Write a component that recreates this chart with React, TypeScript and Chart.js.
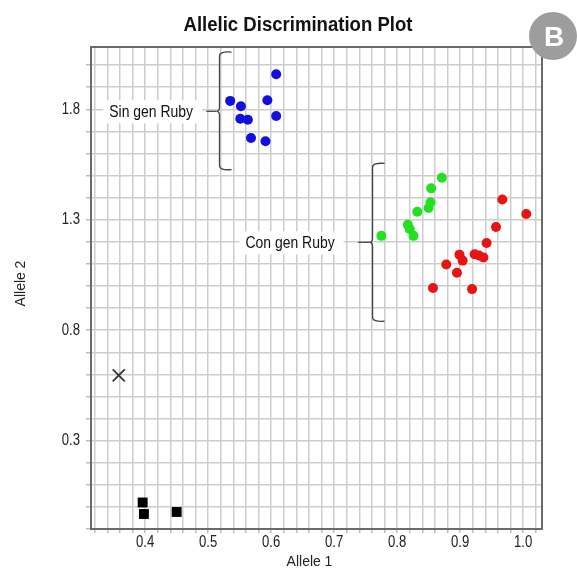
import React, { useEffect, useRef } from "react";
import { Chart, registerables } from "chart.js";

Chart.register(...registerables);

const FONT = "'Liberation Sans', Arial, Helvetica, sans-serif";
const NARROW = 0.82;

const TITLE = "Allelic Discrimination Plot";
const X_TITLE = "Allele 1";
const Y_TITLE = "Allele 2";
const BADGE = "B";

const X_TICK_LABELS = ["0.4", "0.5", "0.6", "0.7", "0.8", "0.9", "1.0"];
const Y_TICK_LABELS = ["0.3", "0.8", "1.3", "1.8"];

// Sin gen Ruby (blue)
const BLUE_X = [0.608, 0.535, 0.552, 0.594, 0.551, 0.563, 0.608, 0.568, 0.591];
const BLUE_Y = [1.959, 1.838, 1.814, 1.841, 1.757, 1.753, 1.770, 1.670, 1.655];

// Con gen Ruby (green)
const GREEN_X = [0.775, 0.817, 0.820, 0.826, 0.832, 0.850, 0.853, 0.854, 0.871];
const GREEN_Y = [1.227, 1.277, 1.258, 1.227, 1.336, 1.353, 1.379, 1.442, 1.490];

// red cluster
const RED_X = [0.967, 1.005, 0.957, 0.942, 0.899, 0.904, 0.923, 0.930, 0.937, 0.878, 0.895, 0.857, 0.919];
const RED_Y = [1.392, 1.326, 1.267, 1.195, 1.142, 1.115, 1.144, 1.138, 1.129, 1.097, 1.060, 0.991, 0.986];

// no template controls (black squares)
const NTC_X = [0.396, 0.398, 0.450];
const NTC_Y = [0.020, -0.032, -0.023];

// undetermined (x)
const UND_X = [0.358];
const UND_Y = [0.595];

// bracket annotations (data coordinates)
const BRACKET_LABELS = ["Sin gen Ruby", "Con gen Ruby"];
const BRACKET_X = [0.518, 0.761];
const BRACKET_TOP = [2.059, 1.555];
const BRACKET_BOTTOM = [1.527, 0.841];
const BRACKET_MID = [1.791, 1.198];
const LEADER_X = [0.497, 0.738];
const LABEL_X = [0.4095, 0.630];

const toPts = (xs: number[], ys: number[]) => xs.map((x, i) => ({ x, y: ys[i] }));

const isLabel = (v: number, list: string[]) => {
  const r = Math.round(v * 10);
  if (Math.abs(v * 10 - r) > 1e-6) return "";
  const s = (r / 10).toFixed(1);
  return list.includes(s) ? s : "";
};

function narrowText(ctx: any, text: string, x: number, y: number, font: string, align: string, sx = NARROW, rot = 0) {
  ctx.save();
  ctx.translate(x, y);
  if (rot) ctx.rotate(rot);
  ctx.scale(sx, 1);
  ctx.font = font;
  ctx.textAlign = align;
  ctx.textBaseline = "middle";
  ctx.fillText(text, 0, 0);
  ctx.restore();
}

const decorPlugin = {
  id: "decor",
  beforeDatasetsDraw(chart: any) {
    const { ctx, chartArea } = chart;
    ctx.save();
    ctx.strokeStyle = "#6a6a6a";
    ctx.lineWidth = 2;
    ctx.strokeRect(chartArea.left, chartArea.top, chartArea.right - chartArea.left, chartArea.bottom - chartArea.top);

    const xs = chart.scales.x;
    const ys = chart.scales.y;
    // brackets
    for (let i = 0; i < BRACKET_LABELS.length; i++) {
      const x0 = xs.getPixelForValue(BRACKET_X[i]);
      const top = ys.getPixelForValue(BRACKET_TOP[i]);
      const bot = ys.getPixelForValue(BRACKET_BOTTOM[i]);
      const mid = ys.getPixelForValue(BRACKET_MID[i]);
      const h = 12;
      const r = 4;
      const cusp = 3;
      ctx.beginPath();
      ctx.strokeStyle = "#444";
      ctx.lineWidth = 1.3;
      ctx.moveTo(x0 + h, top);
      ctx.quadraticCurveTo(x0, top - 1, x0, top + r);
      ctx.lineTo(x0, mid - r);
      ctx.quadraticCurveTo(x0, mid, x0 - cusp, mid);
      ctx.quadraticCurveTo(x0, mid, x0, mid + r);
      ctx.lineTo(x0, bot - r);
      ctx.quadraticCurveTo(x0, bot + 1, x0 + h, bot);
      ctx.stroke();

      // label
      const lx = xs.getPixelForValue(LABEL_X[i]);
      const font = `17px ${FONT}`;
      ctx.font = font;
      const w = ctx.measureText(BRACKET_LABELS[i]).width * NARROW;
      const boxL = lx - w / 2 - 6;
      const boxR = lx + w / 2 + 9;
      ctx.fillStyle = "#ffffff";
      ctx.fillRect(boxL, mid - 11, boxR - boxL, 23);
      ctx.fillStyle = "#111";
      narrowText(ctx, BRACKET_LABELS[i], lx, mid + 1, font, "center");
      // leader
      ctx.beginPath();
      ctx.strokeStyle = "#444";
      ctx.lineWidth = 1.3;
      ctx.moveTo(xs.getPixelForValue(LEADER_X[i]), mid);
      ctx.lineTo(x0 - cusp, mid);
      ctx.stroke();
    }
    ctx.restore();
  },
  afterDraw(chart: any) {
    const { ctx, chartArea } = chart;
    const xs = chart.scales.x;
    const ys = chart.scales.y;
    ctx.save();
    ctx.fillStyle = "#222";
    const tickFont = `16px ${FONT}`;
    // x tick labels
    xs.ticks.forEach((t: any) => {
      const s = isLabel(t.value, X_TICK_LABELS);
      if (s) narrowText(ctx, s, xs.getPixelForValue(t.value), chartArea.bottom + 14, tickFont, "center");
    });
    // y tick labels
    ys.ticks.forEach((t: any) => {
      const s = isLabel(t.value, Y_TICK_LABELS);
      if (s) narrowText(ctx, s, chartArea.left - 11, ys.getPixelForValue(t.value), tickFont, "right");
    });

    // title
    ctx.fillStyle = "#111";
    const titleFont = `bold 20px ${FONT}`;
    ctx.font = titleFont;
    const tw = ctx.measureText(TITLE).width;
    narrowText(ctx, TITLE, 298, 25, titleFont, "center", 229 / tw);
    // axis titles
    ctx.fillStyle = "#222";
    narrowText(ctx, X_TITLE, 309.5, 562, `15.5px ${FONT}`, "center", 0.9);
    narrowText(ctx, Y_TITLE, 21, 283.5, `15.5px ${FONT}`, "center", 0.9, -Math.PI / 2);
    // badge
    ctx.beginPath();
    ctx.fillStyle = "#9d9d9d";
    ctx.arc(553, 36, 24, 0, Math.PI * 2);
    ctx.fill();
    ctx.fillStyle = "#ffffff";
    ctx.font = `bold 28px ${FONT}`;
    ctx.textAlign = "center";
    ctx.textBaseline = "middle";
    ctx.fillText(BADGE, 554, 38);
    ctx.restore();
  },
};

export default function App() {
  const ref = useRef<HTMLCanvasElement | null>(null);
  useEffect(() => {
    if (!ref.current) return;
    const grid = { color: "#cdcdcd", lineWidth: 1.5, drawTicks: true };
    const chart = new Chart(ref.current, {
      type: "scatter",
      data: {
        datasets: [
          { label: "Sin gen Ruby", data: toPts(BLUE_X, BLUE_Y), backgroundColor: "#1010e0", borderWidth: 0, pointRadius: 5 },
          { label: "Con gen Ruby", data: toPts(GREEN_X, GREEN_Y), backgroundColor: "#22e022", borderWidth: 0, pointRadius: 5 },
          { label: "Rojo", data: toPts(RED_X, RED_Y), backgroundColor: "#e81414", borderWidth: 0, pointRadius: 5 },
          { label: "NTC", data: toPts(NTC_X, NTC_Y), backgroundColor: "#000", borderWidth: 0, pointRadius: 7, pointStyle: "rect" },
          { label: "Undetermined", data: toPts(UND_X, UND_Y), backgroundColor: "#333", borderColor: "#333", borderWidth: 1.8, pointRadius: 8.5, pointStyle: "crossRot" },
        ],
      },
      options: {
        animation: false,
        responsive: false,
        maintainAspectRatio: false,
        devicePixelRatio: 1,
        layout: { padding: { left: 0, right: 35, top: 47, bottom: 0 } },
        plugins: { legend: { display: false }, tooltip: { enabled: false }, title: { display: false } },
        scales: {
          x: {
            type: "linear",
            min: 0.314,
            max: 1.03,
            afterFit: (s: any) => { s.height = 42; },
            grid: { ...grid, tickLength: 4, tickColor: "#bdbdbd" },
            border: { display: false },
            ticks: {
              stepSize: 0.02,
              includeBounds: false,
              autoSkip: false,
              maxRotation: 0,
              padding: 3,
              font: { family: FONT, size: 15 },
              callback: () => "",
            },
          },
          y: {
            type: "linear",
            min: -0.1,
            max: 2.082,
            afterFit: (s: any) => { s.width = 91; },
            grid: { ...grid, tickLength: 5, tickColor: "#bdbdbd" },
            border: { display: false },
            ticks: {
              stepSize: 0.1,
              includeBounds: false,
              autoSkip: false,
              padding: 7,
              font: { family: FONT, size: 15 },
              callback: () => "",
            },
          },
        },
      },
      plugins: [decorPlugin],
    });
    return () => chart.destroy();
  }, []);
  return (
    <div style={{ position: "fixed", left: 0, top: 0, width: 577, height: 571, background: "#fff" }}>
      <canvas ref={ref} width={577} height={571} style={{ width: 577, height: 571, display: "block" }} />
    </div>
  );
}
